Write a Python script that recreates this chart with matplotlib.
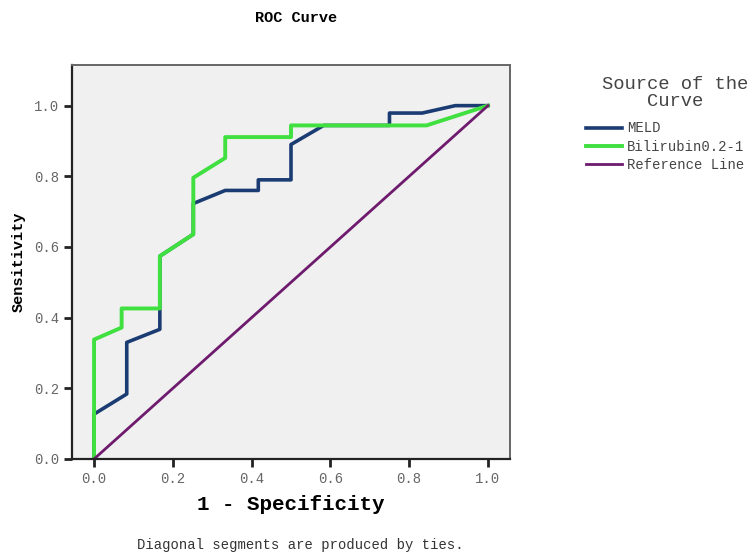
# ROC curve: MELD vs Bilirubin
import matplotlib
matplotlib.use("Agg")
import matplotlib.pyplot as plt

# data
meld_fpr = [0, 0, 0.083, 0.083, 0.167, 0.167, 0.252, 0.252, 0.333, 0.417, 0.417,
            0.5, 0.5, 0.583, 0.75, 0.75, 0.833, 0.917, 1.0]
meld_tpr = [0, 0.127, 0.184, 0.33, 0.367, 0.574, 0.636, 0.723, 0.76, 0.76, 0.79,
            0.79, 0.89, 0.944, 0.944, 0.979, 0.979, 1.0, 1.0]

bili_fpr = [0, 0, 0.07, 0.07, 0.167, 0.167, 0.252, 0.252, 0.333, 0.333, 0.5, 0.5, 0.844, 1.0]
bili_tpr = [0, 0.338, 0.372, 0.426, 0.426, 0.574, 0.636, 0.796, 0.852, 0.911, 0.911, 0.944, 0.944, 1.0]

ref_x = [0, 1]
ref_y = [0, 1]

ticks = [0.0, 0.2, 0.4, 0.6, 0.8, 1.0]
tick_labels = ["0.0", "0.2", "0.4", "0.6", "0.8", "1.0"]

mono = "Liberation Mono"

fig = plt.figure(figsize=(7.53, 5.54), dpi=100)
ax = fig.add_axes([72 / 753, 1 - 459 / 554, 438 / 753, 394 / 554])
ax.set_facecolor("#f0f0f0")

ax.plot(meld_fpr, meld_tpr, color="#1b3c73", lw=2.6, label="MELD")
ax.plot(bili_fpr, bili_tpr, color="#3fe03f", lw=2.8, label="Bilirubin0.2-1")
ax.plot(ref_x, ref_y, color="#6e1b6e", lw=2.0, label="Reference Line")

ax.set_xlim(-0.056, 1.056)
ax.set_ylim(0, 1.115)
ax.set_xticks(ticks)
ax.set_xticklabels(tick_labels, family=mono, fontsize=10, color="#666666")
ax.set_yticks(ticks)
ax.set_yticklabels(tick_labels, family=mono, fontsize=10, color="#666666")
ax.tick_params(direction="out", length=6, width=2, color="#222222")

for s in ["left", "bottom"]:
    ax.spines[s].set_color("#222222")
    ax.spines[s].set_linewidth(1.6)
for s in ["top", "right"]:
    ax.spines[s].set_color("#666666")
    ax.spines[s].set_linewidth(1.4)

ax.set_xlabel("1 - Specificity", family=mono, fontsize=15, fontweight="bold", labelpad=6)
ax.set_ylabel("Sensitivity", family=mono, fontsize=11, fontweight="bold", labelpad=6)

fig.text(296 / 753, 1 - 18 / 554, "ROC Curve", family=mono, fontsize=11,
         fontweight="bold", ha="center", va="center")
fig.text(300 / 753, 1 - 545 / 554, "Diagonal segments are produced by ties.",
         family=mono, fontsize=10, ha="center", va="center", color="#333333")

# legend title drawn separately so the gap to the entries can be set
fig.text(675 / 753, 1 - 93 / 554, "Source of the\nCurve", family=mono, fontsize=13.5,
         color="#444444", ha="center", va="center", multialignment="center",
         linespacing=0.95)

leg = fig.legend(loc="upper left", bbox_to_anchor=(573 / 753, 1 - 109 / 554),
                 frameon=False, prop={"family": mono, "size": 10},
                 handlelength=2.6, handletextpad=0.4, labelspacing=0.3)
for t in leg.get_texts():
    t.set_color("#444444")

fig.savefig("out.png", dpi=100)
